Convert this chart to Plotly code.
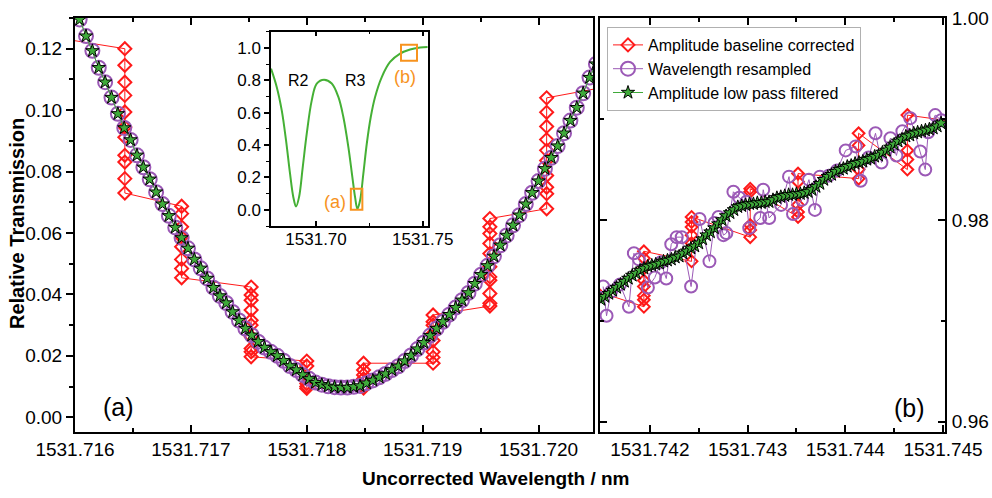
import plotly.graph_objects as go

# ------------------------------------------------------------------ data
# Panel (a): region around resonance minimum
wl_a_start = 1531.71604
wl_a_step = 0.000055
filtered_a = [0.1295, 0.1241, 0.1193, 0.1138, 0.1091, 0.1041, 0.0988, 0.0942, 0.0903, 0.0853,
              0.0814, 0.0775, 0.0733, 0.0694, 0.0656, 0.0618, 0.0584, 0.0550, 0.0514, 0.0485,
              0.0452, 0.0422, 0.0395, 0.0372, 0.0343, 0.0315, 0.0289, 0.0267, 0.0246, 0.0227,
              0.0213, 0.0200, 0.0184, 0.0167, 0.0154, 0.0138, 0.0125, 0.0113, 0.0106, 0.0101,
              0.0098, 0.0097, 0.0097, 0.0099, 0.0102, 0.0111, 0.0120, 0.0130, 0.0141, 0.0154,
              0.0166, 0.0183, 0.0201, 0.0222, 0.0243, 0.0266, 0.0289, 0.0311, 0.0334, 0.0357,
              0.0381, 0.0405, 0.0435, 0.0464, 0.0493, 0.0524, 0.0560, 0.0592, 0.0625, 0.0658,
              0.0694, 0.0731, 0.0769, 0.0809, 0.0845, 0.0883, 0.0925, 0.0966, 0.1008, 0.1055,
              0.1106, 0.1150]
resampled_a = list(filtered_a)
wl_a = [round(wl_a_start + i * wl_a_step, 6) for i in range(len(filtered_a))]

baseline_a_cols = [1531.71590, 1531.71643, 1531.71692, 1531.71752, 1531.71800,
                   1531.71849, 1531.71909, 1531.71958, 1531.72007, 1531.72060]
baseline_a_vals = [
    [0.1232],
    [0.1200, 0.1146, 0.1091, 0.1048, 0.0994, 0.0945, 0.0912, 0.0853, 0.0831, 0.0777, 0.0730],
    [0.0687, 0.0663, 0.0620, 0.0587, 0.0555, 0.0514, 0.0484, 0.0454],
    [0.0424, 0.0398, 0.0381, 0.0349, 0.0316, 0.0300, 0.0262, 0.0224, 0.0213, 0.0197],
    [0.0183, 0.0167, 0.0110, 0.0100, 0.0094],
    [0.0095, 0.0100, 0.0125, 0.0138, 0.0154, 0.0176],
    [0.0176, 0.0195, 0.0213, 0.0250, 0.0273, 0.0300, 0.0311, 0.0333],
    [0.0362, 0.0371, 0.0403, 0.0446, 0.0457, 0.0490, 0.0533, 0.0566, 0.0598, 0.0620, 0.0647],
    [0.0679, 0.0728, 0.0749, 0.0787, 0.0836, 0.0869, 0.0904, 0.0947, 0.0993, 0.1040],
    [0.1077],
]

# Panel (b): region near transmission maximum
wl_b_start = 1531.74150
wl_b_step = 0.00004
filtered_b = [0.9721, 0.9724, 0.9727, 0.9730, 0.9733, 0.9736, 0.9739, 0.9742, 0.9745, 0.9747,
              0.9750, 0.9752, 0.9754, 0.9755, 0.9756, 0.9757, 0.9759, 0.9760, 0.9761, 0.9763,
              0.9764, 0.9767, 0.9769, 0.9772, 0.9774, 0.9777, 0.9781, 0.9785, 0.9788, 0.9792,
              0.9796, 0.9800, 0.9804, 0.9807, 0.9810, 0.9813, 0.9814, 0.9815, 0.9816, 0.9816,
              0.9817, 0.9817, 0.9818, 0.9818, 0.9820, 0.9822, 0.9823, 0.9824, 0.9825, 0.9825,
              0.9826, 0.9826, 0.9827, 0.9828, 0.9830, 0.9833, 0.9836, 0.9840, 0.9843, 0.9845,
              0.9848, 0.9850, 0.9851, 0.9853, 0.9854, 0.9856, 0.9857, 0.9858, 0.9860, 0.9861,
              0.9863, 0.9864, 0.9867, 0.9869, 0.9872, 0.9875, 0.9878, 0.9880, 0.9883, 0.9884,
              0.9886, 0.9887, 0.9888, 0.9889, 0.9890, 0.9891, 0.9893, 0.9896]
wl_b = [round(wl_b_start + i * wl_b_step, 6) for i in range(len(filtered_b))]

resampled_b_wl = [1531.741522, 1531.741557, 1531.741603, 1531.741695, 1531.741786, 1531.741837,
                  1531.741888, 1531.741980, 1531.742051, 1531.742112, 1531.742168, 1531.742219,
                  1531.742275, 1531.742326, 1531.742422, 1531.742509, 1531.742610, 1531.742661,
                  1531.742702, 1531.742753, 1531.742783, 1531.742855, 1531.742916, 1531.742987,
                  1531.743017, 1531.743129, 1531.743160, 1531.743221, 1531.743343, 1531.743424,
                  1531.743465, 1531.743556, 1531.743628, 1531.743689, 1531.743740, 1531.743831,
                  1531.743913, 1531.744004, 1531.744106, 1531.744157, 1531.744238, 1531.744309,
                  1531.744370, 1531.744462, 1531.744523, 1531.744584, 1531.744665, 1531.744767,
                  1531.744818, 1531.744848, 1531.744920, 1531.744981]
resampled_b = [0.9734, 0.9705, 0.9729, 0.9736, 0.9714, 0.9767,
               0.9761, 0.9733, 0.9743, 0.9758, 0.9742, 0.9776,
               0.9783, 0.9783, 0.9734, 0.9801, 0.9759, 0.9797,
               0.9803, 0.9785, 0.9787, 0.9828, 0.9822, 0.9818,
               0.9792, 0.9802, 0.9830, 0.9802, 0.9815, 0.9843,
               0.9806, 0.9820, 0.9840, 0.9810, 0.9843, 0.9844,
               0.9849, 0.9869, 0.9873, 0.9839, 0.9862, 0.9886,
               0.9857, 0.9881, 0.9864, 0.9888, 0.9901, 0.9868,
               0.9850, 0.9887, 0.9904, 0.9899]

baseline_b_cols = [1531.741440, 1531.741939, 1531.742427, 1531.743027, 1531.743516,
                   1531.744136, 1531.744635, 1531.745310]
baseline_b_vals = [
    [0.9730],
    [0.9714, 0.9721, 0.9725, 0.9734, 0.9740, 0.9752, 0.9762, 0.9769],
    [0.9759, 0.9777, 0.9785, 0.9793, 0.9798, 0.9803],
    [0.9783, 0.9790, 0.9795, 0.9828, 0.9831],
    [0.9803, 0.9808, 0.9815, 0.9838, 0.9846],
    [0.9841, 0.9850, 0.9874, 0.9886],
    [0.9850, 0.9860, 0.9869, 0.9904],
    [0.9895],
]

# Inset: full resonance spectrum (R2, R3)
inset_wl = [1531.67891, 1531.68158, 1531.68393, 1531.68594, 1531.68782, 1531.68936, 1531.69063,
            1531.69203, 1531.69377, 1531.69564, 1531.69799, 1531.70033, 1531.70375, 1531.70736,
            1531.71045, 1531.71279, 1531.71514, 1531.71701, 1531.71828, 1531.71935, 1531.72062,
            1531.72216, 1531.72376, 1531.72563, 1531.72765, 1531.73079, 1531.73468, 1531.73936,
            1531.74405, 1531.74873, 1531.75234]
inset_T = [0.872, 0.759, 0.614, 0.429, 0.223, 0.078, 0.020,
           0.078, 0.264, 0.470, 0.676, 0.780, 0.804, 0.780,
           0.697, 0.573, 0.387, 0.202, 0.078, 0.006, 0.058,
           0.223, 0.408, 0.573, 0.697, 0.820, 0.913, 0.965,
           0.990, 1.002, 1.006]

legend_names = ["Amplitude baseline corrected", "Wavelength resampled", "Amplitude low pass filtered"]


def flatten(cols, vals):
    xs, ys = [], []
    for c, vs in zip(cols, vals):
        for v in vs:
            xs.append(c)
            ys.append(v)
    return xs, ys


base_a_x, base_a_y = flatten(baseline_a_cols, baseline_a_vals)
base_b_x, base_b_y = flatten(baseline_b_cols, baseline_b_vals)

# ------------------------------------------------------------------ style
W, H = 992, 498
FONT = "Liberation Sans, Arial, sans-serif"
RED = "#FF1A1A"
PURPLE = "#9B59B6"
GREEN = "#3FAA3A"
ORANGE = "#F7931E"
INSET_GREEN = "#45B035"


def fx(px):
    return px / W


def fy(py):
    return 1 - py / H


fig = go.Figure()

# panel (a)
fig.add_trace(go.Scatter(x=base_a_x, y=base_a_y, mode="lines+markers", name=legend_names[0],
                         line=dict(color=RED, width=1),
                         marker=dict(symbol="diamond-open", size=10, color=RED, line=dict(width=2, color=RED)),
                         xaxis="x", yaxis="y", legendrank=1))
fig.add_trace(go.Scatter(x=wl_a, y=resampled_a, mode="lines+markers", name=legend_names[1],
                         line=dict(color=PURPLE, width=1),
                         marker=dict(symbol="circle-open", size=14, color=PURPLE, line=dict(width=2, color=PURPLE)),
                         xaxis="x", yaxis="y", legendrank=2))
fig.add_trace(go.Scatter(x=wl_a, y=filtered_a, mode="lines+markers", name=legend_names[2],
                         line=dict(color=GREEN, width=1),
                         marker=dict(symbol="star", size=10, color=GREEN, line=dict(width=1, color="black")),
                         xaxis="x", yaxis="y", legendrank=3))

# panel (b)
fig.add_trace(go.Scatter(x=base_b_x, y=base_b_y, mode="lines+markers", showlegend=False,
                         line=dict(color=RED, width=1),
                         marker=dict(symbol="diamond-open", size=9, color=RED, line=dict(width=2, color=RED)),
                         xaxis="x2", yaxis="y2"))
fig.add_trace(go.Scatter(x=resampled_b_wl, y=resampled_b, mode="lines+markers", showlegend=False,
                         line=dict(color=PURPLE, width=1),
                         marker=dict(symbol="circle-open", size=12, color=PURPLE, line=dict(width=2, color=PURPLE)),
                         xaxis="x2", yaxis="y2"))
fig.add_trace(go.Scatter(x=wl_b, y=filtered_b, mode="lines+markers", showlegend=False,
                         line=dict(color=GREEN, width=1),
                         marker=dict(symbol="star", size=10, color=GREEN, line=dict(width=1, color="black")),
                         xaxis="x2", yaxis="y2"))

# inset
fig.add_trace(go.Scatter(x=inset_wl, y=inset_T, mode="lines", showlegend=False,
                         line=dict(color=INSET_GREEN, width=2, shape="spline"),
                         xaxis="x3", yaxis="y3"))

tickfont = dict(family=FONT, size=19, color="black")
insetfont = dict(family=FONT, size=17, color="black")
ax_common = dict(showline=True, linecolor="black", linewidth=2, showgrid=False, zeroline=False,
                 tickcolor="black", tickwidth=1.5, ticklen=7, automargin=False)

y_dom = [fy(431.7), fy(18)]
y_range_a = [-0.0047, 0.13]
x_range_a = [1531.716, 1531.72047]
x_range_b = [1531.74149, 1531.74502]
y_range_b = [0.95901, 1.00003]

fig.update_layout(
    width=W, height=H,
    margin=dict(l=0, r=0, t=0, b=0),
    paper_bgcolor="white", plot_bgcolor="rgba(0,0,0,0)",
    font=dict(family=FONT, color="black"),
    xaxis=dict(**ax_common, domain=[fx(75), fx(593)], anchor="y", range=x_range_a,
               tickmode="linear", tick0=1531.716, dtick=0.001, tickformat=".3f",
               ticks="inside", mirror="ticks", tickfont=tickfont, ticklabelstandoff=-1,
               minor=dict(tick0=1531.7165, dtick=0.001, ticks="inside", ticklen=4,
                          tickcolor="black", tickwidth=1.5)),
    yaxis=dict(**ax_common, domain=y_dom, anchor="x", range=y_range_a,
               tickmode="linear", tick0=0, dtick=0.02, tickformat=".2f",
               ticks="outside", mirror=True, tickfont=tickfont, ticklabelstandoff=0,
               minor=dict(tick0=0.01, dtick=0.02, ticks="outside", ticklen=4,
                          tickcolor="black", tickwidth=1.5)),
    yaxis4=dict(overlaying="y", anchor="x", side="right", range=y_range_a, showline=False,
                showgrid=False, zeroline=False, showticklabels=False,
                tickmode="linear", tick0=0, dtick=0.02, ticks="inside", ticklen=7,
                tickcolor="black", tickwidth=1.5,
                minor=dict(tick0=0.01, dtick=0.02, ticks="inside", ticklen=4,
                           tickcolor="black", tickwidth=1.5)),
    xaxis2=dict(**ax_common, domain=[fx(600), fx(945)], anchor="y2", range=x_range_b,
                tickmode="linear", tick0=1531.742, dtick=0.001, tickformat=".3f",
                ticks="inside", mirror="ticks", tickfont=tickfont, ticklabelstandoff=-1,
                minor=dict(tick0=1531.7415, dtick=0.001, ticks="inside", ticklen=4,
                           tickcolor="black", tickwidth=1.5)),
    yaxis2=dict(**ax_common, domain=y_dom, anchor="x2", side="right", range=y_range_b,
                tickmode="linear", tick0=0.96, dtick=0.02, tickformat=".2f",
                ticks="inside", mirror="ticks", tickfont=tickfont, ticklabelstandoff=1,
                minor=dict(tick0=0.97, dtick=0.02, ticks="inside", ticklen=4,
                           tickcolor="black", tickwidth=1.5)),
    xaxis3=dict(**{**ax_common, "linewidth": 1.5, "ticklen": 5}, domain=[fx(271), fx(427.7)],
                anchor="y3", range=[1531.6789, 1531.7523],
                tickmode="linear", tick0=1531.70, dtick=0.05, tickformat=".2f",
                ticks="inside", mirror="ticks", tickfont=insetfont, ticklabelstandoff=-3,
                minor=dict(tick0=1531.675, dtick=0.05, ticks="inside", ticklen=3,
                           tickcolor="black", tickwidth=1.2)),
    yaxis3=dict(**{**ax_common, "linewidth": 1.5, "ticklen": 5}, domain=[fy(226), fy(31.7)],
                anchor="x3", range=[-0.1, 1.1],
                tickmode="linear", tick0=0, dtick=0.2, tickformat=".1f",
                ticks="outside", mirror=True, tickfont=insetfont, ticklabelstandoff=0,
                minor=dict(tick0=0.1, dtick=0.2, ticks="outside", ticklen=3,
                           tickcolor="black", tickwidth=1.2)),
    yaxis5=dict(overlaying="y3", anchor="x3", side="right", range=[-0.1, 1.1], showline=False,
                showgrid=False, zeroline=False, showticklabels=False,
                tickmode="linear", tick0=0, dtick=0.2, ticks="inside", ticklen=5,
                tickcolor="black", tickwidth=1.2),
    legend=dict(x=fx(607), y=fy(27), xanchor="left", yanchor="top",
                bgcolor="white", bordercolor="#B0B0B0", borderwidth=1,
                font=dict(family=FONT, size=16, color="black"),
                tracegroupgap=0, itemwidth=30),
    showlegend=True,
)

# inset background box (white) behind inset axes
fig.add_shape(type="rect", xref="paper", yref="paper", x0=fx(271), x1=fx(427.7), y0=fy(226), y1=fy(31.7),
              fillcolor="white", line=dict(width=0), layer="below")

# zoom region markers in inset
zoom_a_box = dict(x0=1531.7163, x1=1531.7217, y0=0.0, y1=0.13)
zoom_b_box = dict(x0=1531.7398, x1=1531.7473, y0=0.92, y1=1.02)
for box in (zoom_a_box, zoom_b_box):
    fig.add_shape(type="rect", xref="x3", yref="y3", **box, line=dict(color=ORANGE, width=2),
                  fillcolor="rgba(0,0,0,0)")

annos = [
    dict(text="<b>Relative Transmission</b>", x=fx(17), y=fy(224), textangle=-90,
         font=dict(family=FONT, size=20, color="black")),
    dict(text="<b>Uncorrected Wavelength / nm</b>", x=fx(495), y=fy(478),
         font=dict(family=FONT, size=19, color="black")),
    dict(text="(a)", x=fx(118), y=fy(407), font=dict(family=FONT, size=25, color="black")),
    dict(text="(b)", x=fx(909), y=fy(408), font=dict(family=FONT, size=25, color="black")),
]
for a in annos:
    fig.add_annotation(xref="paper", yref="paper", showarrow=False, xanchor="center", yanchor="middle", **a)

inset_annos = [
    dict(text="R2", x=1531.6916, y=0.80, font=dict(family=FONT, size=16, color="black")),
    dict(text="R3", x=1531.7183, y=0.80, font=dict(family=FONT, size=16, color="black")),
    dict(text="(a)", x=1531.7089, y=0.05, font=dict(family=FONT, size=18, color=ORANGE)),
    dict(text="(b)", x=1531.7417, y=0.82, font=dict(family=FONT, size=18, color=ORANGE)),
]
for a in inset_annos:
    fig.add_annotation(xref="x3", yref="y3", showarrow=False, xanchor="center", yanchor="middle", **a)

# remove the browser's default 8px page margin so the figure sits at the window origin
fig.write_html("out.html",
               config={"displayModeBar": False},
               post_script="document.body.style.margin='0px';document.body.style.padding='0px';"
                           "document.body.style.overflow='hidden';")
